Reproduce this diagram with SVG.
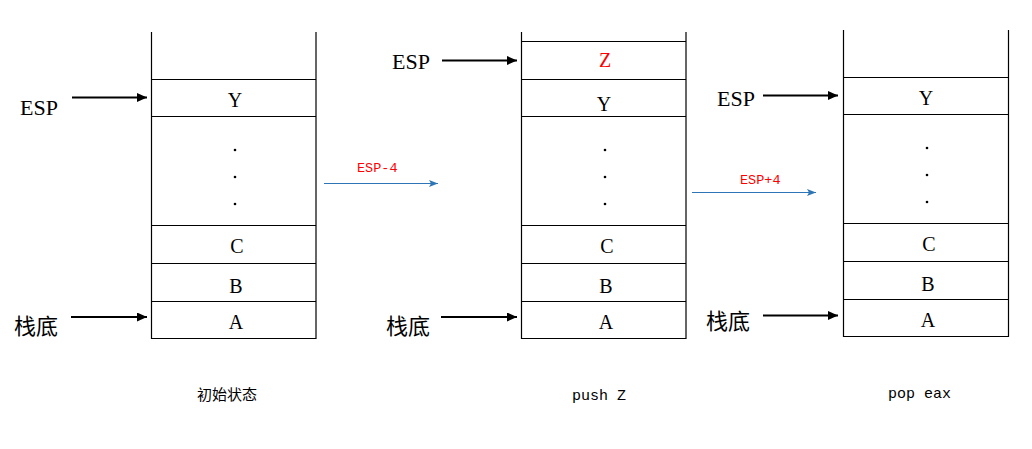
<svg xmlns="http://www.w3.org/2000/svg" width="1032" height="449" viewBox="0 0 1032 449">
<style>
.cell{fill:none;stroke:#000;stroke-width:1.2}
.lbl{font-family:"Liberation Serif","Noto Sans CJK SC",serif;font-size:22px;fill:#000}
.cjk{font-family:"Noto Sans CJK SC",sans-serif;font-size:22px;fill:#000}
.val{font-family:"Liberation Serif",serif;font-size:20px;fill:#000;text-anchor:middle}
.red{fill:#ff0000}
.op{font-family:"Liberation Mono",monospace;font-size:13.5px;fill:#ff0000}
.cap{font-family:"Liberation Mono",monospace;font-size:15px;fill:#000}
.capc{font-family:"Noto Sans CJK SC",sans-serif;font-size:15px;fill:#000}
.blk{stroke:#000;stroke-width:2;fill:none}
.blu{stroke:#2e75b6;stroke-width:1.2;fill:none}
.dot{fill:#000}
</style>
<defs>
<marker id="ah" markerUnits="userSpaceOnUse" markerWidth="11" markerHeight="10" refX="10" refY="4.5" orient="auto">
<path d="M0,0 L10,4.5 L0,9 z" fill="#000"/>
</marker>
<marker id="ab" markerUnits="userSpaceOnUse" markerWidth="10" markerHeight="8" refX="9" refY="3.5" orient="auto">
<path d="M0,0 L9,3.5 L0,7 L2,3.5 z" fill="#2e75b6"/>
</marker>
</defs>
<rect width="1032" height="449" fill="#fff"/>

<g id="stack1">
<path class="cell" d="M151.5,32 V338.5 H316 V32 M151.5,79.5 H316 M151.5,116.5 H316 M151.5,225.5 H316 M151.5,263.5 H316 M151.5,301.5 H316"/>
<text class="val" x="235" y="107">Y</text>
<circle class="dot" cx="235" cy="150" r="1.3"/>
<circle class="dot" cx="235" cy="177" r="1.3"/>
<circle class="dot" cx="235" cy="204" r="1.3"/>
<text class="val" x="237" y="253">C</text>
<text class="val" x="236" y="292.5">B</text>
<text class="val" x="236" y="329">A</text>
</g>

<g id="stack2">
<path class="cell" d="M521.5,32 V338.5 H686 V32 M521.5,41.5 H686 M521.5,79.5 H686 M521.5,116.5 H686 M521.5,225.5 H686 M521.5,263.5 H686 M521.5,301.5 H686"/>
<text class="val red" x="605" y="67">Z</text>
<text class="val" x="604" y="111">Y</text>
<circle class="dot" cx="605" cy="150" r="1.3"/>
<circle class="dot" cx="605" cy="177" r="1.3"/>
<circle class="dot" cx="605" cy="204" r="1.3"/>
<text class="val" x="607" y="253">C</text>
<text class="val" x="606" y="292.5">B</text>
<text class="val" x="606" y="329">A</text>
</g>

<g id="stack3">
<path class="cell" d="M843.5,30 V336.5 H1008.5 V30 M843.5,77.5 H1008.5 M843.5,114.5 H1008.5 M843.5,223.5 H1008.5 M843.5,261.5 H1008.5 M843.5,299.5 H1008.5"/>
<text class="val" x="926" y="105">Y</text>
<circle class="dot" cx="927" cy="148" r="1.3"/>
<circle class="dot" cx="927" cy="175" r="1.3"/>
<circle class="dot" cx="927" cy="202" r="1.3"/>
<text class="val" x="929" y="251">C</text>
<text class="val" x="928" y="290.5">B</text>
<text class="val" x="928" y="327">A</text>
</g>

<g id="labels">
<text class="lbl" x="20" y="115">ESP</text>
<text class="cjk" x="14" y="334">栈底</text>
<text class="lbl" x="392" y="69">ESP</text>
<text class="cjk" x="386" y="334">栈底</text>
<text class="lbl" x="717" y="106">ESP</text>
<text class="cjk" x="706" y="329">栈底</text>
<text class="op" x="357" y="172">ESP-4</text>
<text class="op" x="740" y="184">ESP+4</text>
<text class="capc" x="197" y="400">初始状态</text>
<text class="cap" x="572" y="400">push Z</text>
<text class="cap" x="888" y="398">pop eax</text>
</g>

<g id="connectors">
<line class="blk" x1="72" y1="97.5" x2="147" y2="97.5" marker-end="url(#ah)"/>
<line class="blk" x1="71" y1="317" x2="147" y2="317" marker-end="url(#ah)"/>
<line class="blk" x1="442" y1="60.5" x2="517" y2="60.5" marker-end="url(#ah)"/>
<line class="blk" x1="441" y1="317" x2="517" y2="317" marker-end="url(#ah)"/>
<line class="blk" x1="763" y1="95.5" x2="838" y2="95.5" marker-end="url(#ah)"/>
<line class="blk" x1="763" y1="315.5" x2="838" y2="315.5" marker-end="url(#ah)"/>
<line class="blu" x1="324" y1="183.5" x2="438" y2="183.5" marker-end="url(#ab)"/>
<line class="blu" x1="692" y1="192.5" x2="816" y2="192.5" marker-end="url(#ab)"/>
</g>
</svg>
